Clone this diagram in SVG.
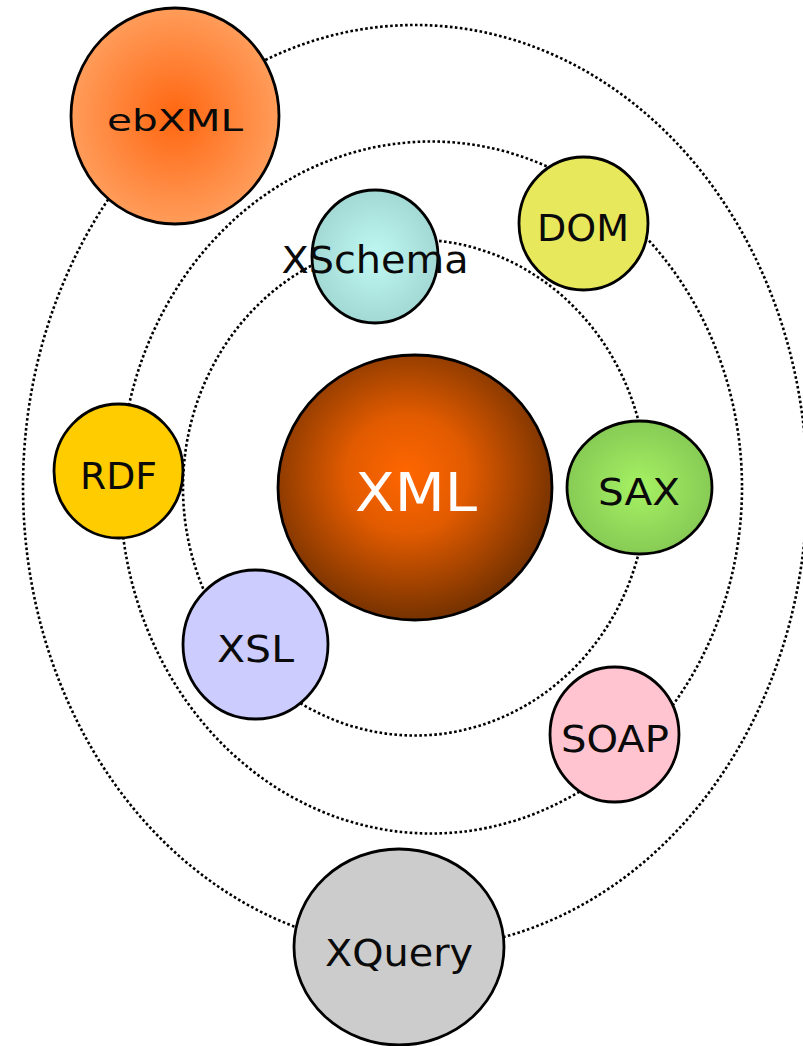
<svg xmlns="http://www.w3.org/2000/svg" width="803" height="1046" viewBox="0 0 803 1046">
<style>
.orbit{fill:none;stroke:#000;stroke-width:2.6;stroke-dasharray:2.6 2.4}
.node{stroke:#000;stroke-width:2.8}
.lbl{font-family:"DejaVu Sans","Liberation Sans",sans-serif;font-size:37px;fill:#0A0A0A;text-anchor:middle}
</style>
<defs>
<radialGradient id="gEb" cx="0.5" cy="0.5" r="0.5">
<stop offset="0" stop-color="#FF6610"/><stop offset="1" stop-color="#FF9C5A"/>
</radialGradient>
<radialGradient id="gXs" cx="0.5" cy="0.5" r="0.5">
<stop offset="0" stop-color="#BFF8F3"/><stop offset="1" stop-color="#A3D9D5"/>
</radialGradient>
<radialGradient id="gXml" cx="0.47" cy="0.45" r="0.55">
<stop offset="0" stop-color="#FF6600"/><stop offset="0.4" stop-color="#E25B00"/><stop offset="1" stop-color="#763200"/>
</radialGradient>
<radialGradient id="gSax" cx="0.5" cy="0.5" r="0.5">
<stop offset="0" stop-color="#A6F263"/><stop offset="1" stop-color="#87CB55"/>
</radialGradient>
</defs>
<g id="connectors">
<ellipse class="orbit" cx="415" cy="487" rx="392" ry="462"/>
<ellipse class="orbit" cx="431" cy="487.5" rx="311" ry="346"/>
<ellipse class="orbit" cx="415" cy="487.5" rx="232" ry="248"/>
</g>
<g id="ebXML">
<ellipse class="node" cx="175" cy="116" rx="104" ry="108" fill="url(#gEb)"/>
<text class="lbl" x="175" y="131" style="font-size:31px" textLength="136" lengthAdjust="spacingAndGlyphs">ebXML</text>
</g>
<g id="XSchema">
<ellipse class="node" cx="375" cy="256.5" rx="63" ry="66.5" fill="url(#gXs)"/>
<text class="lbl" x="375" y="273" textLength="187" lengthAdjust="spacingAndGlyphs">XSchema</text>
</g>
<g id="DOM">
<ellipse class="node" cx="583.5" cy="223.5" rx="64.5" ry="66.5" fill="#E8E85C"/>
<text class="lbl" x="583" y="241" textLength="92" lengthAdjust="spacingAndGlyphs">DOM</text>
</g>
<g id="RDF">
<ellipse class="node" cx="118.5" cy="471" rx="64.5" ry="67" fill="#FFCC00"/>
<text class="lbl" x="118.5" y="489" textLength="77" lengthAdjust="spacingAndGlyphs">RDF</text>
</g>
<g id="XML">
<ellipse class="node" cx="415" cy="487.5" rx="137" ry="132.5" fill="url(#gXml)"/>
<text class="lbl" x="416" y="511" style="font-size:53px;fill:#FFFFFF" textLength="122" lengthAdjust="spacingAndGlyphs">XML</text>
</g>
<g id="SAX">
<ellipse class="node" cx="639.5" cy="487.5" rx="72.5" ry="66.5" fill="url(#gSax)"/>
<text class="lbl" x="639" y="505" textLength="82" lengthAdjust="spacingAndGlyphs">SAX</text>
</g>
<g id="XSL">
<ellipse class="node" cx="255.5" cy="644.5" rx="72.5" ry="74.5" fill="#CCCCFF"/>
<text class="lbl" x="255.5" y="662" textLength="77" lengthAdjust="spacingAndGlyphs">XSL</text>
</g>
<g id="SOAP">
<ellipse class="node" cx="614.5" cy="734.5" rx="64.5" ry="67.5" fill="#FFC4D0"/>
<text class="lbl" x="615" y="752" textLength="108" lengthAdjust="spacingAndGlyphs">SOAP</text>
</g>
<g id="XQuery">
<ellipse class="node" cx="399" cy="947" rx="105" ry="98" fill="#CCCCCC"/>
<text class="lbl" x="399" y="966" textLength="148" lengthAdjust="spacingAndGlyphs">XQuery</text>
</g>
</svg>
